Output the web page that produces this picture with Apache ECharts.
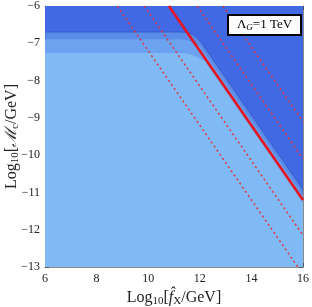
<!DOCTYPE html>
<html><head><meta charset="utf-8">
<script src="https://cdn.jsdelivr.net/npm/echarts@6/dist/echarts.min.js"></script>
<style>html,body{margin:0;padding:0;background:#fff}#c{width:312px;height:307px}</style>
</head><body><div id="c"></div>
<script>
// axis ranges
const xRange = [6, 16];
const yRange = [-13, -6];
// shaded regions (data coordinates: log10 f_X, log10 M_c)
const regionDark = [[6, -13], [6, -6], [16, -6], [16, -13]];
const regionA = [[6, -6.70], [11.3, -6.70], [11.55, -6.72], [11.75, -6.78], [11.9, -6.86], [12.05, -6.98], [16, -10.93], [16, -13], [6, -13]];
const regionB = [[6, -6.89], [11.25, -6.89], [11.5, -6.91], [11.7, -6.97], [11.85, -7.03], [12.0, -7.08], [16, -11.08], [16, -13], [6, -13]];
const regionL = [[6, -7.26], [11.25, -7.26], [11.55, -7.28], [11.8, -7.34], [12.0, -7.41], [12.2, -7.48], [16, -11.28], [16, -13], [6, -13]];
// red lines (endpoints)
const solidLine = [[10.8, -6], [16, -11.2]];
const dashed1 = [[8.8, -6], [15.8, -13]];
const dashed2 = [[9.85, -6], [16, -12.15]];
const dashed3 = [[11.9, -6], [16, -10.1]];
const dashed4 = [[12.9, -6], [16, -9.1]];

const serif = 'Liberation Serif';
function poly(points, fill, stroke, lw) {
  return {
    type: 'custom', coordinateSystem: 'cartesian2d', data: points, clip: true, silent: true,
    encode: {x: 0, y: 1},
    renderItem(params, api) {
      if (params.dataIndex !== 0) return null;
      return {type: 'polygon', shape: {points: points.map(p => api.coord(p))},
        style: {fill: fill, stroke: stroke || null, lineWidth: lw || 0}};
    }
  };
}
function line(data, color, width, dash) {
  return {type: 'line', data: data, symbol: 'none', silent: true, clip: true,
    lineStyle: {color: color, width: width, type: dash ? [2, 3] : 'solid'}};
}
const fmt = v => String(v).replace('-', '\u2212');
const axisCommon = {
  axisLine: {show: true, onZero: false, lineStyle: {color: '#8a8a8a', width: 1}},
  axisTick: {show: true, inside: true, length: 4, lineStyle: {color: '#555'}},
  splitLine: {show: false}
};
const chart = echarts.init(document.getElementById('c'));
chart.setOption({
  animation: false,
  grid: {left: 45, right: 9, top: 6, bottom: 40, containLabel: false, outerBoundsMode: 'none'},
  xAxis: [
    Object.assign({type: 'value', min: xRange[0], max: xRange[1], interval: 2, position: 'bottom',
      axisLabel: {formatter: fmt, fontFamily: serif, fontSize: 12, color: '#222', margin: 6},
      minorTick: {show: true, length: 2, splitNumber: 4, lineStyle: {color: '#777'}},
      name: '{n|Log}{s|10}{n|[}{f|f\u0302}{s|X}{n|/GeV]}', nameLocation: 'middle', nameGap: 21, nameMoveOverlap: false,
      nameTextStyle: {rich: {
        n: {fontFamily: serif, fontSize: 16, color: '#222'},
        f: {fontFamily: serif, fontSize: 16, fontStyle: 'italic', color: '#222'},
        s: {fontFamily: serif, fontSize: 11, color: '#222', verticalAlign: 'bottom', padding: [8, 0, 0, 0]}
      }}}, axisCommon),
    Object.assign({type: 'value', min: xRange[0], max: xRange[1], interval: 2, position: 'top',
      axisLabel: {show: false},
      minorTick: {show: true, length: 2, splitNumber: 4, lineStyle: {color: '#777'}}}, axisCommon)
  ],
  yAxis: [
    Object.assign({type: 'value', min: yRange[0], max: yRange[1], interval: 1, position: 'left',
      axisLabel: {formatter: fmt, fontFamily: serif, fontSize: 12, color: '#222', margin: 5},
      minorTick: {show: true, length: 2, splitNumber: 5, lineStyle: {color: '#777'}},
      name: '{n|Log}{s|10}{n|[}{m|\u2133}{s|c}{n|/GeV]}', nameLocation: 'middle', nameGap: 24, nameRotate: 90, nameMoveOverlap: false,
      nameTextStyle: {rich: {
        n: {fontFamily: serif, fontSize: 16, color: '#222'},
        m: {fontFamily: serif, fontSize: 16, fontStyle: 'italic', color: '#222'},
        s: {fontFamily: serif, fontSize: 11, fontStyle: 'normal', color: '#222', verticalAlign: 'bottom', padding: [8, 0, 0, 0]}
      }}}, axisCommon),
    Object.assign({type: 'value', min: yRange[0], max: yRange[1], interval: 1, position: 'right',
      axisLabel: {show: false},
      minorTick: {show: true, length: 2, splitNumber: 5, lineStyle: {color: '#777'}}}, axisCommon)
  ],
  series: [
    poly(regionDark, '#4169E4'),
    poly(regionA, '#5A8CEA', 'rgba(45,75,175,0.55)', 1),
    poly(regionB, '#6BA3F0'),
    poly(regionL, '#80BAF4'),
    line(dashed1, '#e8313c', 1.5, true),
    line(dashed2, '#e8313c', 1.5, true),
    line(dashed3, '#e8313c', 1.5, true),
    line(dashed4, '#e8313c', 1.5, true),
    line(solidLine, '#e8141e', 2.6, false)
  ],
  graphic: [{
    type: 'group', x: 228, y: 15, z: 100, zlevel: 0,
    children: [
      {type: 'rect', z: 100, shape: {x: 0, y: 0, width: 73, height: 20}, style: {fill: '#fff', stroke: '#000', lineWidth: 2}},
      {type: 'text', z: 101, x: 36.5, y: 10, style: {
        text: '{a|\u039B}{g|G}{a|=1 TeV}', align: 'center', verticalAlign: 'middle',
        rich: {
          a: {fontFamily: serif, fontSize: 13, fill: '#000'},
          g: {fontFamily: serif, fontSize: 9, fontStyle: 'italic', fill: '#000', verticalAlign: 'bottom', padding: [6, 0, 0, 0]}
        }}}
    ]
  }]
});
</script></body></html>
